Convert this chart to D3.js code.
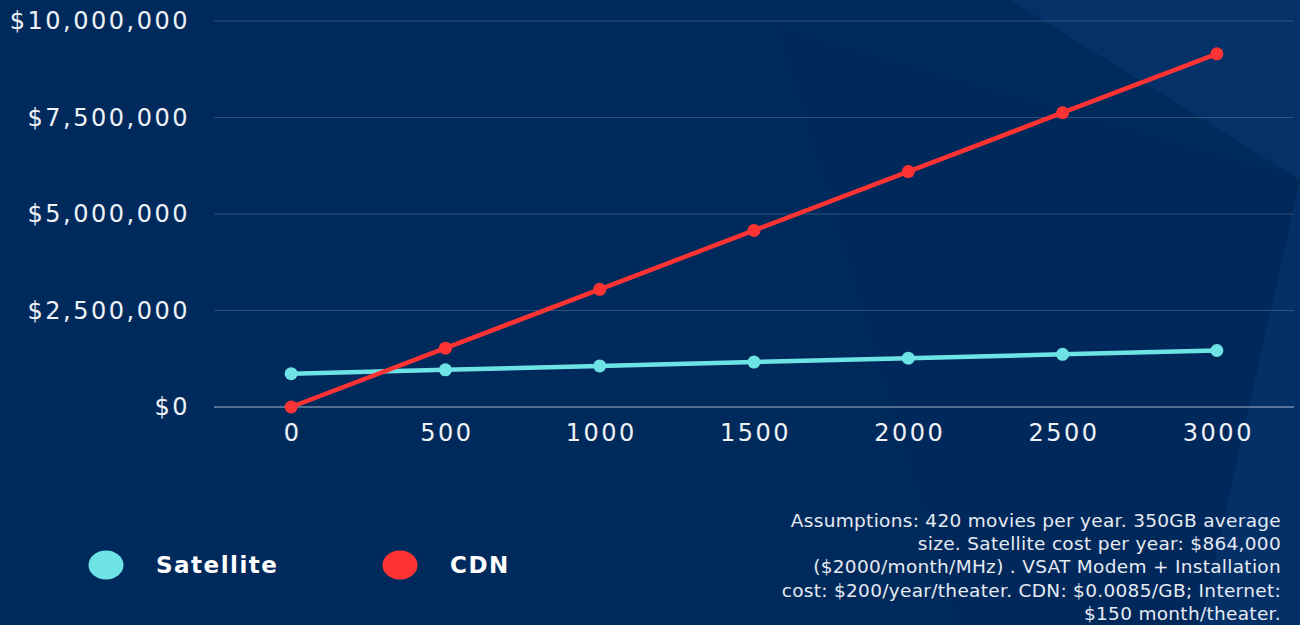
<!DOCTYPE html>
<html><head><meta charset="utf-8">
<script src="https://cdn.jsdelivr.net/npm/d3@7"></script>
<style>html,body{margin:0;padding:0;background:#012a5c;overflow:hidden}</style>
</head><body>
<svg id="c" width="1300" height="625"></svg>
<script>
const categories = [0, 500, 1000, 1500, 2000, 2500, 3000];
const satellite = [864000, 964000, 1064000, 1164000, 1264000, 1364000, 1464000];
const cdn = [0, 1524750, 3049500, 4574250, 6099000, 7623750, 9148500];
const yTicks = [0, 2500000, 5000000, 7500000, 10000000];
const seriesNames = ["Satellite", "CDN"];
const seriesColors = ["#6ee3e6", "#ff3333"];
const noteLines = [
  "Assumptions: 420 movies per year. 350GB average",
  "size. Satellite cost per year: $864,000",
  "($2000/month/MHz) . VSAT Modem + Installation",
  "cost: $200/year/theater. CDN: $0.0085/GB; Internet:",
  "$150 month/theater."
];

const svg = d3.select("#c");
// background
svg.append("rect").attr("width",1300).attr("height",625).attr("fill","#012a5c");
const bg = svg.append("g");
bg.append("polygon").attr("points","720,0 1300,0 1300,180 1010,0").attr("fill","#03306a").attr("opacity",0.5);
bg.append("polygon").attr("points","1010,0 1300,0 1300,180").attr("fill","#0a3a74").attr("opacity",0.35);
bg.append("polygon").attr("points","1300,180 1300,625 1200,625").attr("fill","#073670").attr("opacity",0.6);
bg.append("polygon").attr("points","780,30 1300,180 1200,625 960,625").attr("fill","#00265a").attr("opacity",0.35);

const x = d3.scalePoint().domain(categories).range([214, 1294]).padding(0.5);
const y = d3.scaleLinear().domain([0, 10000000]).range([407, 21]);

const fmt = d3.format("$,");
const tickFont = "'DejaVu Sans', sans-serif";

// grid
svg.append("g").selectAll("line").data(yTicks).join("line")
  .attr("x1",214).attr("x2",1294)
  .attr("y1",d=>y(d)).attr("y2",d=>y(d))
  .attr("stroke",d=>d===0?"#b8c4d6":"#ffffff")
  .attr("stroke-opacity",d=>d===0?0.9:0.18)
  .attr("stroke-width",1);

// y axis labels
const yAxis = d3.axisLeft(y).tickValues(yTicks).tickFormat(fmt).tickSize(0).tickPadding(0);
const yg = svg.append("g").attr("transform","translate(190,0)").call(yAxis);
yg.select(".domain").remove();
yg.selectAll("text").attr("fill","#eef2f7").style("font-family",tickFont)
  .style("font-size","24px").style("font-weight","400").style("letter-spacing","2.5px");

// x axis labels
const xAxis = d3.axisBottom(x).tickSize(0).tickPadding(0);
const xg = svg.append("g").attr("transform","translate(1,424)").call(xAxis);
xg.select(".domain").remove();
xg.selectAll("text").attr("fill","#eef2f7").style("font-family",tickFont)
  .style("font-size","24px").style("font-weight","400").style("letter-spacing","2.5px");

// lines
const series = [satellite, cdn];
const line = d3.line().x((d,i)=>x(categories[i])).y(d=>y(d));
series.forEach((s,k)=>{
  svg.append("path").datum(s).attr("d",line).attr("fill","none")
    .attr("stroke",seriesColors[k]).attr("stroke-width",4.5).attr("stroke-linejoin","round");
  svg.append("g").selectAll("circle").data(s).join("circle")
    .attr("cx",(d,i)=>x(categories[i])).attr("cy",d=>y(d)).attr("r",6.5)
    .attr("fill",seriesColors[k]);
});

// legend
const legendX = [106, 400];
const lg = svg.append("g");
seriesNames.forEach((n,k)=>{
  lg.append("ellipse").attr("cx",legendX[k]).attr("cy",565).attr("rx",17.5).attr("ry",14.5).attr("fill",seriesColors[k]);
  lg.append("text").attr("x",legendX[k]+50).attr("y",565).attr("dy","0.36em")
    .attr("fill","#ffffff").style("font-family","'DejaVu Sans', sans-serif")
    .style("font-size","23px").style("font-weight","700").style("letter-spacing","1.5px").text(n);
});

// note
svg.append("g").selectAll("text").data(noteLines).join("text")
  .attr("x",1281).attr("y",(d,i)=>527+i*23.2).attr("text-anchor","end")
  .attr("fill","#e6ebf2").style("font-family","'DejaVu Sans', sans-serif")
  .style("font-size","18.5px").style("letter-spacing","0.3px").text(d=>d);
</script>
</body></html>
